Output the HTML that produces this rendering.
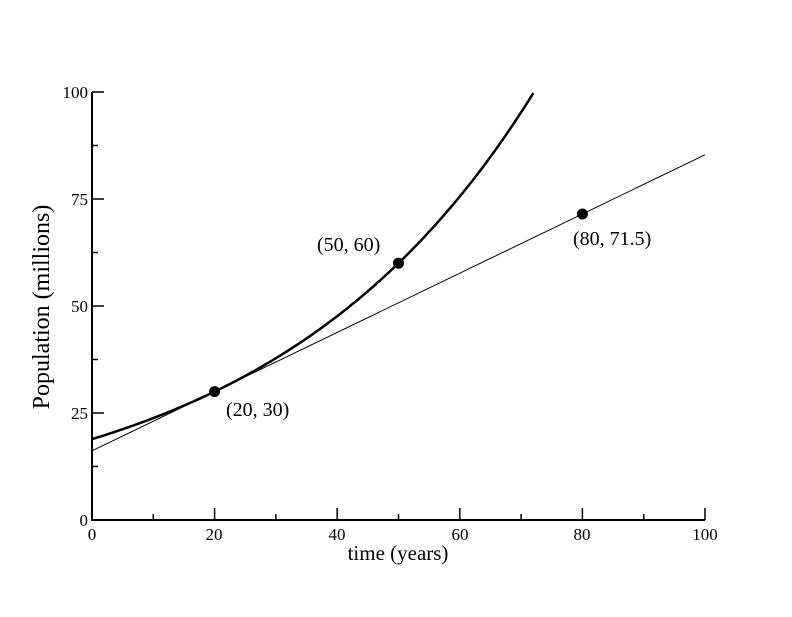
<!DOCTYPE html>
<html><head><style>body{margin:0;background:#fff}</style></head><body>
<svg id="s" width="792" height="612" xmlns="http://www.w3.org/2000/svg" font-family="Liberation Serif, serif">
<rect width="792" height="612" fill="#fff"/>
<g stroke="#000" stroke-width="2" fill="none">
<line x1="92" y1="92" x2="92" y2="521"/>
<line x1="91" y1="520" x2="705" y2="520"/>
</g>
<g id="ticks" stroke="#000" stroke-width="1.5"></g>
<g font-size="17" text-anchor="middle">
<text x="92" y="540">0</text><text x="214" y="540">20</text><text x="337" y="540">40</text><text x="460" y="540">60</text><text x="582" y="540">80</text><text x="705" y="540">100</text>
</g>
<g font-size="17" text-anchor="end">
<text x="88" y="526">0</text><text x="88" y="419">25</text><text x="88" y="312">50</text><text x="88" y="205">75</text><text x="88" y="98">100</text>
</g>
<text x="398" y="560" font-size="21" text-anchor="middle">time (years)</text>
<text transform="translate(49,307) rotate(-90)" font-size="24" text-anchor="middle">Population (millions)</text>
<line x1="92" y1="450.8" x2="705" y2="154.8" stroke="#000" stroke-width="1"/>
<polyline id="c" fill="none" stroke="#000" stroke-width="2.5"/>
<g fill="#000"><circle cx="214.6" cy="391.6" r="5.5"/><circle cx="398.5" cy="263.2" r="5.5"/><circle cx="582.4" cy="214" r="5.5"/></g>
<g font-size="20">
<text x="226" y="416">(20, 30)</text><text x="317" y="251">(50, 60)</text><text x="573" y="245">(80, 71.5)</text>
</g>
</svg>
<script>
var X=function(t){return 92+t*6.13},Y=function(p){return 520-p*4.28};
var pts=[];for(var t=0;t<=72.05;t+=0.5){pts.push(X(t).toFixed(1)+","+Y(18.9*Math.pow(2,t/30)).toFixed(1));}
document.getElementById('c').setAttribute('points',pts.join(' '));
var g=document.getElementById('ticks'),h='';
for(var i=0;i<=10;i++){var x=X(i*10),l=i%2?6:12;h+='<line x1="'+x+'" y1="520" x2="'+x+'" y2="'+(520-l)+'"/>';}
for(var j=0;j<=8;j++){var y=Y(j*12.5),l=j%2?6:12;h+='<line x1="92" y1="'+y+'" x2="'+(92+l)+'" y2="'+y+'"/>';}
g.innerHTML=h;
</script>
</body></html>
